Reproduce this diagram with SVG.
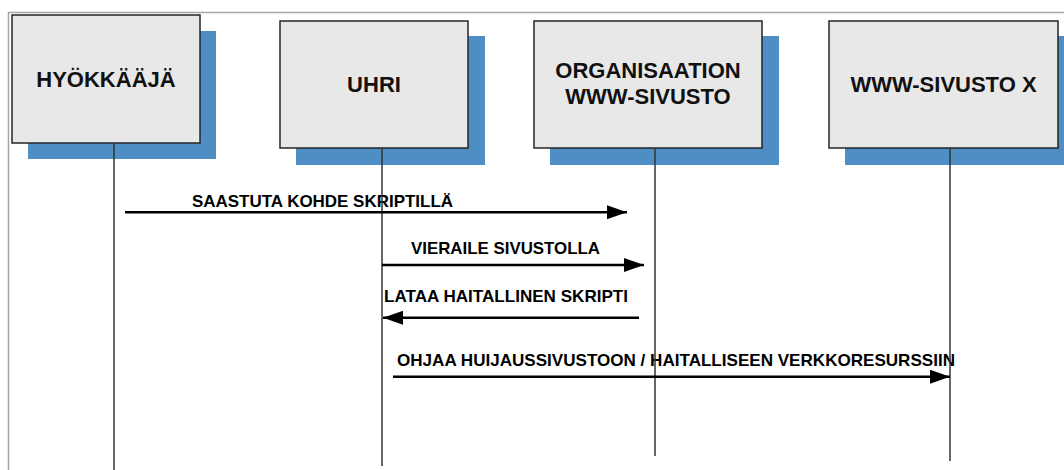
<svg xmlns="http://www.w3.org/2000/svg" width="1064" height="470" viewBox="0 0 1064 470">
  <defs>
    <marker id="arrow-end" markerUnits="userSpaceOnUse" markerWidth="22" markerHeight="16" viewBox="0 0 22 16" refX="20" refY="7" orient="auto">
      <path d="M0,0 L20,7 L0,14 Z" fill="#000"/>
    </marker>
  </defs>
  <style>
    .frame { fill: none; stroke: #a6a6a6; stroke-width: 1.5; }
    .shadow { fill: #4e8ec4; }
    .box { fill: #e8e8e8; stroke: #262626; stroke-width: 1.5; }
    .title { font-family: "Liberation Sans", Arial, sans-serif; font-weight: bold; font-size: 22px; fill: #111; text-anchor: middle; }
    .lifeline { stroke: #333; stroke-width: 1.5; fill: none; }
    .msg { stroke: #000; stroke-width: 2.5; fill: none; }
    .label { font-family: "Liberation Sans", Arial, sans-serif; font-weight: bold; font-size: 17px; fill: #000; }
  </style>

  <rect width="1064" height="470" fill="#fff"/>
  <path class="frame" d="M8.5,472 V12.5 H1066"/>

  <g id="node-hyokkaaja">
    <rect class="shadow" x="28" y="31" width="188" height="128"/>
    <rect class="box" x="12" y="15" width="188" height="128"/>
    <text class="title" x="106" y="87">HYÖKKÄÄJÄ</text>
  </g>

  <g id="node-uhri">
    <rect class="shadow" x="296" y="36" width="189" height="129"/>
    <rect class="box" x="280" y="21" width="188" height="127"/>
    <text class="title" x="374" y="92">UHRI</text>
  </g>

  <g id="node-organisaatio">
    <rect class="shadow" x="550" y="36" width="229" height="129"/>
    <rect class="box" x="534" y="21" width="228" height="127"/>
    <text class="title" x="648" y="77.5">ORGANISAATION</text>
    <text class="title" x="648" y="104">WWW-SIVUSTO</text>
  </g>

  <g id="node-sivusto-x">
    <rect class="shadow" x="845" y="36" width="229" height="129"/>
    <rect class="box" x="829" y="21" width="229" height="127"/>
    <text class="title" x="943.5" y="92">WWW-SIVUSTO X</text>
  </g>

  <g id="connectors">
    <!-- message labels -->
    <text class="label" x="192" y="206.5" textLength="261" lengthAdjust="spacingAndGlyphs">SAASTUTA KOHDE SKRIPTILLÄ</text>
    <text class="label" x="411" y="254" textLength="189" lengthAdjust="spacingAndGlyphs">VIERAILE SIVUSTOLLA</text>
    <text class="label" x="384" y="301.5" textLength="244" lengthAdjust="spacingAndGlyphs">LATAA HAITALLINEN SKRIPTI</text>
    <text class="label" x="397" y="366" textLength="558" lengthAdjust="spacingAndGlyphs">OHJAA HUIJAUSSIVUSTOON / HAITALLISEEN VERKKORESURSSIIN</text>

    <!-- lifelines -->
    <line class="lifeline" x1="114" y1="143" x2="114" y2="472"/>
    <line class="lifeline" x1="382" y1="148" x2="382" y2="466"/>
    <line class="lifeline" x1="655" y1="148" x2="655" y2="456"/>
    <line class="lifeline" x1="950" y1="148" x2="950" y2="461"/>

    <!-- messages -->
    <line class="msg" x1="125" y1="212.3" x2="627" y2="212.3" marker-end="url(#arrow-end)"/>
    <line class="msg" x1="382" y1="265" x2="644" y2="265" marker-end="url(#arrow-end)"/>
    <line class="msg" x1="639" y1="317.7" x2="383" y2="317.7" marker-end="url(#arrow-end)"/>
    <line class="msg" x1="393" y1="376.7" x2="950" y2="376.7" marker-end="url(#arrow-end)"/>
  </g>
</svg>
